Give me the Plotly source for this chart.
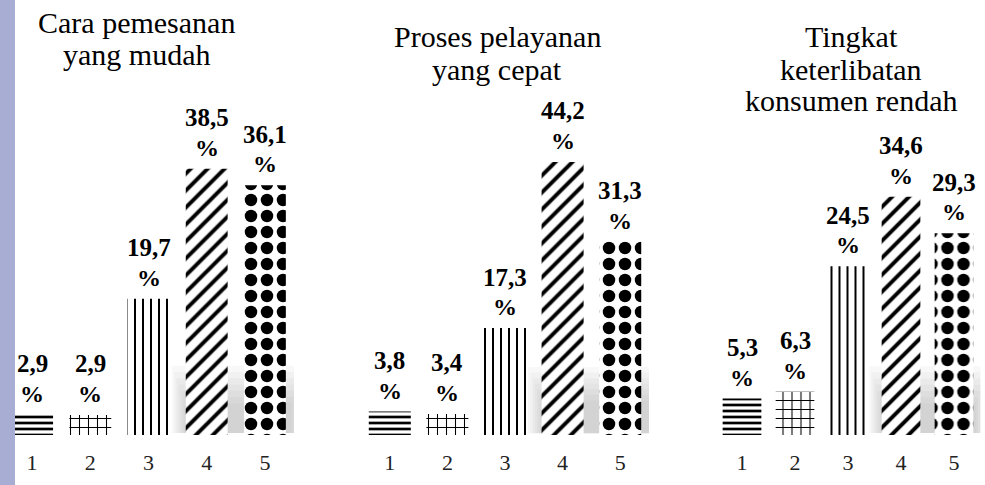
import plotly.graph_objects as go

# ---- data ----
categories = [1, 2, 3, 4, 5]
title_lines = [
    ["Cara pemesanan", "yang mudah"],
    ["Proses pelayanan", "yang cepat"],
    ["Tingkat", "keterlibatan", "konsumen rendah"],
]
values_pemesanan = [2.9, 2.9, 19.7, 38.5, 36.1]
values_pelayanan = [3.8, 3.4, 17.3, 44.2, 31.3]
values_keterlibatan = [5.3, 6.3, 24.5, 34.6, 29.3]
tick_labels = ["1", "2", "3", "4", "5"]

series = [values_pemesanan, values_pelayanan, values_keterlibatan]

# ---- styling ----
W, H = 985, 485
SERIF = "Liberation Serif"
pattern_shapes = ["-", "+", "|", "/", "."]
pattern_sizes = [6, 9, 8, 12, 16]
pattern_solid = [0.45, 0.22, 0.25, 0.33, 0.48]

# pixel layout of each panel (left, right) and y-range
panel_px = [(3, 294), (361, 649), (715.5, 980.5)]
y_ranges = [62.9, 70.4, 63.2]
bargaps = [0.28, 0.27, 0.27]
title_x = [136, 497, 851]
title_first_y = [22, 37, 37]
title_step = 32

plot_h = 435

fig = go.Figure()

for i, vals in enumerate(series):
    xa = "x" if i == 0 else f"x{i+1}"
    ya = "y" if i == 0 else f"y{i+1}"
    fig.add_trace(go.Bar(
        x=categories,
        y=vals,
        xaxis=xa,
        yaxis=ya,
        marker=dict(
            color="white",
            line=dict(width=0),
            pattern=dict(
                shape=pattern_shapes,
                size=pattern_sizes,
                solidity=pattern_solid,
                fgcolor="black",
                bgcolor="white",
                fillmode="replace",
            ),
        ),
        width=1 - bargaps[i],
        showlegend=False,
        hoverinfo="skip",
    ))
    for c, v in zip(categories, vals):
        fig.add_annotation(
            x=c, y=v, xref=xa, yref=ya,
            text="<b>" + f"{v:.1f}".replace(".", ",") + "</b>",
            showarrow=False, xanchor="center", yanchor="middle",
            yshift=51, align="center",
            font=dict(family=SERIF, size=25, color="black"),
        )
        fig.add_annotation(
            x=c, y=v, xref=xa, yref=ya,
            text="<b>%</b>",
            showarrow=False, xanchor="center", yanchor="middle",
            yshift=21, align="center",
            font=dict(family=SERIF, size=24, color="black"),
        )

layout = dict(
    width=W,
    height=H,
    margin=dict(l=0, r=0, t=0, b=50),
    paper_bgcolor="white",
    plot_bgcolor="rgba(0,0,0,0)",
    showlegend=False,
    font=dict(family=SERIF),
)

for i in range(3):
    xk = "xaxis" if i == 0 else f"xaxis{i+1}"
    yk = "yaxis" if i == 0 else f"yaxis{i+1}"
    l, r = panel_px[i]
    layout[xk] = dict(
        domain=[l / W, r / W],
        range=[0.5, 5.5],
        tickmode="array",
        tickvals=categories,
        ticktext=tick_labels,
        tickfont=dict(family=SERIF, size=22, color="#222"),
        showgrid=False,
        zeroline=False,
        showline=False,
        ticks="",
        ticklabelstandoff=12,
        anchor="y" if i == 0 else f"y{i+1}",
        fixedrange=True,
    )
    layout[yk] = dict(
        domain=[0, 1],
        range=[0, y_ranges[i]],
        visible=False,
        anchor="x" if i == 0 else f"x{i+1}",
        fixedrange=True,
    )

fig.update_layout(**layout)

# titles, one annotation per line for tight line spacing
for i, lines in enumerate(title_lines):
    for j, line in enumerate(lines):
        cy = title_first_y[i] + j * title_step
        fig.add_annotation(
            text=line, xref="paper", yref="paper",
            x=title_x[i] / W, y=1 - cy / plot_h,
            xanchor="center", yanchor="middle",
            showarrow=False, align="center",
            font=dict(family=SERIF, size=30, color="black"),
        )

# soft shadow behind the tall bars (decoration)
shadow_specs = [("x", "y", 3.4, 5.7, 10.0), ("x2", "y2", 3.4, 5.75, 11.0), ("x3", "y3", 3.4, 5.65, 10.0)]
for xr, yr, x0, x1, ytop in shadow_specs:
    for k in range(7):
        shrink = k * 0.04
        fig.add_shape(
            type="rect", xref=xr, yref=yr,
            x0=x0 + shrink, x1=x1 - shrink,
            y0=0.3, y1=ytop - k * 0.9,
            fillcolor="rgba(120,120,120,0.05)", line=dict(width=0), layer="below",
        )

# left accent strip
fig.add_shape(
    type="rect", xref="paper", yref="paper",
    x0=0, x1=15 / W, y0=-50 / plot_h, y1=1,
    fillcolor="#a8aed3", line=dict(width=0), layer="above",
)

fig.write_html("out.html")
